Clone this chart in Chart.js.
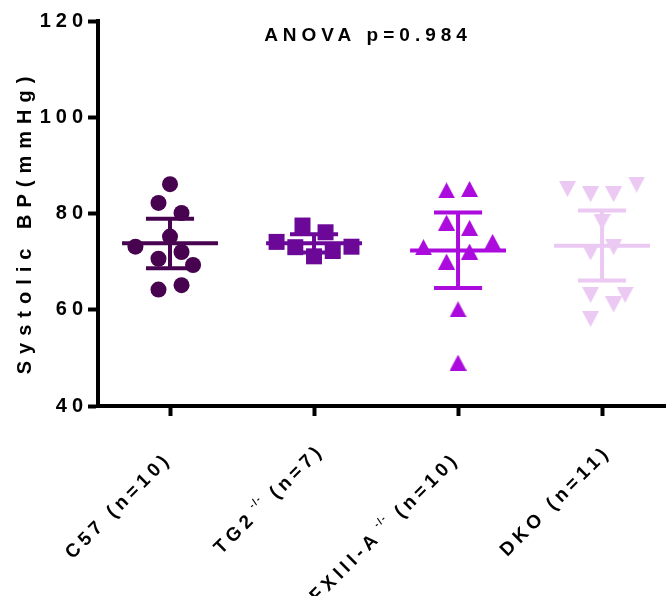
<!DOCTYPE html>
<html lang="en">
<head>
<meta charset="UTF-8">
<title>Systolic BP</title>
<script src="https://cdn.jsdelivr.net/npm/chart.js"></script>
<style>
  html, body { margin: 0; background: #fff; overflow: hidden; }
  #wrap { width: 666px; height: 596px; }
</style>
</head>
<body>
<div id="wrap"><canvas id="bpChart"></canvas></div>
<script>
// groups on the x axis
const groups = ['C57', 'TG2', 'FXIII-A', 'DKO'];
const groupSup = ['', '-/-', '-/-', ''];
const groupN = [10, 7, 10, 11];

// systolic BP of each animal (mmHg)
const c57Values = [86.1, 82.2, 80.1, 75.2, 73.1, 72.0, 70.6, 69.3, 64.2, 65.1];
const tg2Values = [77.5, 76.1, 74.1, 73.0, 73.1, 72.2, 71.1];
const fxiiiValues = [84.8, 85.1, 78.1, 77.0, 73.0, 74.1, 72.1, 70.0, 60.1, 49.0];
const dkoValues = [85.1, 84.0, 84.0, 86.0, 78.2, 73.0, 71.9, 63.1, 63.1, 61.1, 58.1];

// horizontal scatter of the points inside a column (x units)
const c57Jitter = [0, -0.08, 0.08, 0, -0.24, 0.08, -0.08, 0.16, -0.08, 0.08];
const tg2Jitter = [-0.08, 0.08, -0.26, -0.13, 0.26, 0.13, 0];
const fxiiiJitter = [-0.08, 0.08, -0.08, 0.08, -0.24, 0.24, 0.08, -0.08, 0, 0];
const dkoJitter = [-0.24, -0.08, 0.08, 0.24, 0, 0.08, -0.08, -0.08, 0.16, 0.08, -0.08];

// mean line and error bar ends
const groupMean = [73.8, 73.8, 72.3, 73.3];
const errLow = [68.6, 71.9, 64.5, 66.1];
const errHigh = [78.9, 75.7, 80.2, 80.6];

const yTicks = [40, 60, 80, 100, 120];
const yTitle = 'Systolic BP(mmHg)';
const anovaText = 'ANOVA p=0.984';

const colors = ['#47034f', '#6b0898', '#ab0bdd', '#ebc9f3'];
const FONT = '"Liberation Sans", Arial, sans-serif';
const labelNudge = [0, 12, 0, 10]; // some labels sit further out along the slant

function triangle(up, color) {
    const c = document.createElement('canvas');
    c.width = 17; c.height = 16;
    const g = c.getContext('2d');
    g.fillStyle = color;
    g.beginPath();
    if (up) { g.moveTo(0, 16); g.lineTo(8.5, 0); g.lineTo(17, 16); }
    else { g.moveTo(0, 0); g.lineTo(17, 0); g.lineTo(8.5, 16); }
    g.closePath();
    g.fill();
    return c;
}

function points(values, jitter, i) {
    return values.map((v, k) => ({ x: i + jitter[k], y: v }));
}

const styles = ['circle', 'rect', triangle(true, colors[2]), triangle(false, colors[3])];
const radii = [8, 11.3, 8, 8];
const series = [
    points(c57Values, c57Jitter, 0),
    points(tg2Values, tg2Jitter, 1),
    points(fxiiiValues, fxiiiJitter, 2),
    points(dkoValues, dkoJitter, 3)
];

// mean + error bars, drawn on top of the points
const meanBars = {
    id: 'meanBars',
    afterDatasetsDraw(chart) {
        const { ctx, scales: { x, y } } = chart;
        ctx.save();
        ctx.lineWidth = 4;
        groupMean.forEach((m, i) => {
            ctx.strokeStyle = colors[i];
            const cx = x.getPixelForValue(i);
            const half = x.getPixelForValue(i + 0.333) - cx;
            const cap = x.getPixelForValue(i + 0.167) - cx;
            ctx.beginPath();
            ctx.moveTo(cx - half, y.getPixelForValue(m));
            ctx.lineTo(cx + half, y.getPixelForValue(m));
            ctx.moveTo(cx, y.getPixelForValue(errLow[i]));
            ctx.lineTo(cx, y.getPixelForValue(errHigh[i]));
            ctx.moveTo(cx - cap, y.getPixelForValue(errLow[i]));
            ctx.lineTo(cx + cap, y.getPixelForValue(errLow[i]));
            ctx.moveTo(cx - cap, y.getPixelForValue(errHigh[i]));
            ctx.lineTo(cx + cap, y.getPixelForValue(errHigh[i]));
            ctx.stroke();
        });
        ctx.restore();
    }
};

// spaced-out bold text everywhere, plus the rotated group labels with superscripts
const texts = {
    id: 'texts',
    beforeDraw(chart) { chart.ctx.letterSpacing = '5px'; },
    afterDraw(chart) {
        const { ctx, scales: { x }, chartArea } = chart;
        ctx.save();
        ctx.fillStyle = '#000';

        ctx.letterSpacing = '5px';
        ctx.font = 'bold 19px ' + FONT;
        ctx.textAlign = 'center';
        ctx.textBaseline = 'middle';
        ctx.fillText(anovaText, 368, 36);

        ctx.save();
        ctx.translate(25, 222);
        ctx.rotate(-Math.PI / 2);
        ctx.letterSpacing = '7px';
        ctx.font = 'bold 20px ' + FONT;
        ctx.fillText(yTitle, 0, 0);
        ctx.restore();

        groups.forEach((g, i) => {
            const parts = [{ t: g, size: 19, rise: 0, sp: 4.5 }];
            if (groupSup[i]) {
                parts.push({ t: ' ' + groupSup[i], size: 10, rise: -8, sp: 1.5 });
            }
            parts.push({ t: ' (n=' + groupN[i] + ')', size: 19, rise: 0, sp: 4.5 });
            let total = 0;
            parts.forEach(p => {
                ctx.font = 'bold ' + p.size + 'px ' + FONT;
                ctx.letterSpacing = p.sp + 'px';
                p.w = ctx.measureText(p.t).width;
                total += p.w;
            });
            ctx.save();
            ctx.translate(x.getPixelForValue(i) - 1, chartArea.bottom + 50);
            ctx.rotate(-Math.PI / 4);
            ctx.textAlign = 'left';
            let cur = labelNudge[i] - total;
            parts.forEach(p => {
                ctx.font = 'bold ' + p.size + 'px ' + FONT;
                ctx.letterSpacing = p.sp + 'px';
                ctx.fillText(p.t, cur, p.rise);
                cur += p.w;
            });
            ctx.restore();
        });
        ctx.restore();
        ctx.letterSpacing = '0px';
    }
};

new Chart(document.getElementById('bpChart'), {
    type: 'scatter',
    data: {
        datasets: series.map((d, i) => ({
            data: d,
            pointStyle: styles[i],
            pointRadius: radii[i],
            pointHoverRadius: radii[i],
            backgroundColor: colors[i],
            borderColor: colors[i],
            borderWidth: 0,
            clip: false
        }))
    },
    options: {
        responsive: true,
        maintainAspectRatio: false,
        animation: false,
        layout: { autoPadding: false, padding: { top: 21, right: 0, bottom: 0, left: 0 } },
        plugins: { legend: { display: false }, tooltip: { enabled: false } },
        scales: {
            x: {
                type: 'linear',
                min: -0.5,
                max: 3.444,
                afterBuildTicks(s) { s.ticks = groups.map((g, i) => ({ value: i })); },
                afterFit(s) { s.height = 190; s.paddingLeft = 0; s.paddingRight = 0; },
                ticks: { callback: () => '' },
                grid: { drawOnChartArea: false, drawTicks: true, tickLength: 10, tickWidth: 4, tickColor: '#000' },
                border: { display: true, width: 4, color: '#000' }
            },
            y: {
                min: 40,
                max: 120,
                afterBuildTicks(s) { s.ticks = yTicks.map(v => ({ value: v })); },
                afterFit(s) { s.width = 98; s.paddingTop = 0; s.paddingBottom = 0; },
                ticks: {
                    color: '#000',
                    padding: 0,
                    font: { family: FONT, size: 20, weight: 'bold' }
                },
                grid: { drawOnChartArea: false, drawTicks: true, tickLength: 10, tickWidth: 4, tickColor: '#000' },
                border: { display: true, width: 4, color: '#000' }
            }
        }
    },
    plugins: [meanBars, texts]
});
</script>
</body>
</html>
